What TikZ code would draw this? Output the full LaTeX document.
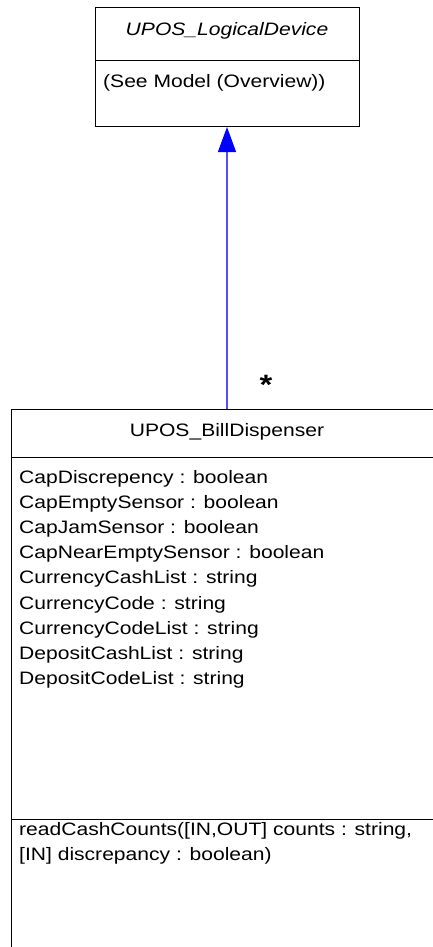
\documentclass[tikz,border=0pt]{standalone}
\usepackage{fontspec}
\setmainfont{Liberation Sans}[FakeStretch=1.17]
\usetikzlibrary{arrows.meta}
\definecolor{linkblue}{RGB}{80,80,255}
\begin{document}
\begin{tikzpicture}[x=1pt,y=-1pt,
  umlbox/.style={draw=black, line width=1pt, fill=white, inner sep=0pt, outer sep=0pt},
  sepline/.style={draw=black, line width=1pt},
  txt/.style={font=\fontsize{18}{25}\selectfont, inner sep=0pt, anchor=base west},
  ttl/.style={font=\fontsize{18}{25}\selectfont, inner sep=0pt, anchor=base},
  gen/.style={draw=linkblue, line width=1.2pt, -{Triangle[length=25pt,width=18pt,color=blue,fill=blue]}}]
\useasboundingbox (0,0) rectangle (433,947);
\fill[white] (0,0) rectangle (433,947);
% boxes
\node[umlbox, minimum width=264pt, minimum height=119pt, anchor=north west] (logical) at (95,8) {};
\node[umlbox, minimum width=432pt, minimum height=560pt, anchor=north west] (bill) at (11,409) {};
% separators
\coordinate (ls1) at (95,61); \coordinate (ls2) at (359,61);
\draw[sepline] (ls1) -- (ls2);
\coordinate (bs1) at (11,457); \coordinate (bs2) at (443,457);
\draw[sepline] (bs1) -- (bs2);
\coordinate (bs3) at (11,819); \coordinate (bs4) at (443,819);
\draw[sepline] (bs3) -- (bs4);
% texts
\node[ttl, font=\fontsize{18}{25}\selectfont\itshape] (ltitle) at (227,36) {UPOS\_LogicalDevice};
\node[txt] (lnote) at (103,88) {(See Model (Overview))};
\node[ttl] (btitle) at (227,436) {UPOS\_BillDispenser};
\foreach \t [count=\i] in {CapDiscrepency : boolean,
  CapEmptySensor : boolean,
  CapJamSensor : boolean,
  CapNearEmptySensor : boolean,
  CurrencyCashList : string,
  CurrencyCode : string,
  CurrencyCodeList : string,
  DepositCashList : string,
  DepositCodeList : string}
  \node[txt] (attr\i) at (19,{483+25.2*(\i-1)}) {\t};
\node[txt] (op1) at (19,835) {readCashCounts([IN,OUT] counts : string,};
\node[txt] (op2) at (19,860) {[IN] discrepancy : boolean)};
% generalization
\draw[gen] (logical.south |- bill.north) -- (logical.south);
\node[font=\fontsize{28}{28}\selectfont\bfseries, inner sep=0pt, anchor=base] (mult) at (266,394) {*};
\end{tikzpicture}
\end{document}
